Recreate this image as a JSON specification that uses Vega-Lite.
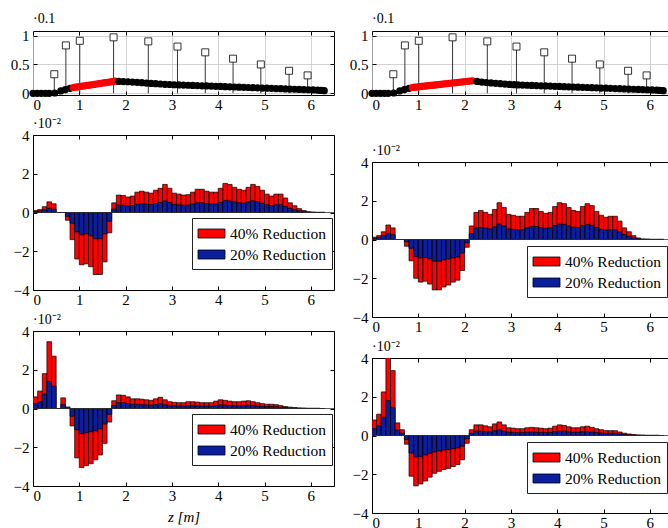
{
"$schema": "https://vega.github.io/schema/vega-lite/v6.json",
"background": "white",
"padding": {"left": 2, "top": 11, "right": 0, "bottom": 0},
"datasets": {
  "frame": [{"t": 0}],
  "stems": [
    {"z": 0.46, "v": 0.33}, {"z": 0.71, "v": 0.83}, {"z": 1.01, "v": 0.91}, {"z": 1.74, "v": 0.97}, {"z": 2.49, "v": 0.9}, {"z": 3.12, "v": 0.81}, {"z": 3.72, "v": 0.71}, {"z": 4.32, "v": 0.6}, {"z": 4.92, "v": 0.5}, {"z": 5.53, "v": 0.39}, {"z": 5.93, "v": 0.31}
  ],
  "dotsL": [
    {"z": 0, "v": 0, "p": "base"}, {"z": 0.09, "v": 0, "p": "base"}, {"z": 0.18, "v": 0, "p": "base"}, {"z": 0.27, "v": 0, "p": "base"}, {"z": 0.35, "v": 0, "p": "base"}, {"z": 0.47, "v": 0.005, "p": "base"}, {"z": 0.6, "v": 0.04, "p": "base"}, {"z": 0.7, "v": 0.065, "p": "base"}, {"z": 0.8, "v": 0.085, "p": "base"},
    {"z": 0.87, "v": 0.1, "p": "opt"}, {"z": 0.92, "v": 0.106, "p": "opt"}, {"z": 0.97, "v": 0.112, "p": "opt"}, {"z": 1.02, "v": 0.118, "p": "opt"}, {"z": 1.07, "v": 0.124, "p": "opt"}, {"z": 1.12, "v": 0.13, "p": "opt"}, {"z": 1.17, "v": 0.136, "p": "opt"}, {"z": 1.22, "v": 0.142, "p": "opt"}, {"z": 1.27, "v": 0.148, "p": "opt"}, {"z": 1.32, "v": 0.154, "p": "opt"}, {"z": 1.37, "v": 0.161, "p": "opt"}, {"z": 1.42, "v": 0.167, "p": "opt"}, {"z": 1.47, "v": 0.173, "p": "opt"}, {"z": 1.52, "v": 0.179, "p": "opt"}, {"z": 1.57, "v": 0.185, "p": "opt"}, {"z": 1.62, "v": 0.191, "p": "opt"}, {"z": 1.67, "v": 0.197, "p": "opt"}, {"z": 1.72, "v": 0.203, "p": "opt"}, {"z": 1.77, "v": 0.209, "p": "opt"},
    {"z": 1.85, "v": 0.205, "p": "base"}, {"z": 1.95, "v": 0.203, "p": "base"}, {"z": 2.05, "v": 0.2, "p": "base"}, {"z": 2.15, "v": 0.195, "p": "base"}, {"z": 2.25, "v": 0.19, "p": "base"}, {"z": 2.35, "v": 0.183, "p": "base"}, {"z": 2.45, "v": 0.177, "p": "base"}, {"z": 2.55, "v": 0.171, "p": "base"}, {"z": 2.65, "v": 0.166, "p": "base"}, {"z": 2.75, "v": 0.161, "p": "base"}, {"z": 2.85, "v": 0.156, "p": "base"}, {"z": 2.95, "v": 0.152, "p": "base"}, {"z": 3.05, "v": 0.148, "p": "base"}, {"z": 3.15, "v": 0.145, "p": "base"}, {"z": 3.25, "v": 0.142, "p": "base"}, {"z": 3.35, "v": 0.139, "p": "base"}, {"z": 3.45, "v": 0.136, "p": "base"}, {"z": 3.55, "v": 0.133, "p": "base"}, {"z": 3.65, "v": 0.13, "p": "base"}, {"z": 3.75, "v": 0.127, "p": "base"}, {"z": 3.85, "v": 0.124, "p": "base"}, {"z": 3.95, "v": 0.121, "p": "base"}, {"z": 4.05, "v": 0.118, "p": "base"}, {"z": 4.15, "v": 0.115, "p": "base"}, {"z": 4.25, "v": 0.112, "p": "base"}, {"z": 4.35, "v": 0.109, "p": "base"}, {"z": 4.45, "v": 0.106, "p": "base"}, {"z": 4.55, "v": 0.103, "p": "base"}, {"z": 4.65, "v": 0.1, "p": "base"}, {"z": 4.75, "v": 0.097, "p": "base"}, {"z": 4.85, "v": 0.094, "p": "base"}, {"z": 4.95, "v": 0.091, "p": "base"}, {"z": 5.05, "v": 0.088, "p": "base"}, {"z": 5.15, "v": 0.085, "p": "base"}, {"z": 5.25, "v": 0.082, "p": "base"}, {"z": 5.35, "v": 0.079, "p": "base"}, {"z": 5.45, "v": 0.076, "p": "base"}, {"z": 5.55, "v": 0.073, "p": "base"}, {"z": 5.65, "v": 0.07, "p": "base"}, {"z": 5.75, "v": 0.067, "p": "base"}, {"z": 5.85, "v": 0.064, "p": "base"}, {"z": 5.95, "v": 0.061, "p": "base"}, {"z": 6.05, "v": 0.058, "p": "base"}, {"z": 6.15, "v": 0.054, "p": "base"}, {"z": 6.22, "v": 0.05, "p": "base"}, {"z": 6.29, "v": 0.045, "p": "base"}
  ],
  "dotsR": [
    {"z": 0, "v": 0, "p": "base"}, {"z": 0.09, "v": 0, "p": "base"}, {"z": 0.18, "v": 0, "p": "base"}, {"z": 0.27, "v": 0, "p": "base"}, {"z": 0.35, "v": 0, "p": "base"}, {"z": 0.47, "v": 0.005, "p": "base"}, {"z": 0.6, "v": 0.04, "p": "base"}, {"z": 0.7, "v": 0.065, "p": "base"}, {"z": 0.8, "v": 0.085, "p": "base"},
    {"z": 0.87, "v": 0.1, "p": "opt"}, {"z": 0.92, "v": 0.105, "p": "opt"}, {"z": 0.97, "v": 0.109, "p": "opt"}, {"z": 1.02, "v": 0.114, "p": "opt"}, {"z": 1.07, "v": 0.118, "p": "opt"}, {"z": 1.12, "v": 0.123, "p": "opt"}, {"z": 1.17, "v": 0.127, "p": "opt"}, {"z": 1.22, "v": 0.132, "p": "opt"}, {"z": 1.27, "v": 0.136, "p": "opt"}, {"z": 1.32, "v": 0.141, "p": "opt"}, {"z": 1.37, "v": 0.145, "p": "opt"}, {"z": 1.42, "v": 0.15, "p": "opt"}, {"z": 1.47, "v": 0.154, "p": "opt"}, {"z": 1.52, "v": 0.159, "p": "opt"}, {"z": 1.57, "v": 0.163, "p": "opt"}, {"z": 1.62, "v": 0.168, "p": "opt"}, {"z": 1.67, "v": 0.172, "p": "opt"}, {"z": 1.72, "v": 0.177, "p": "opt"}, {"z": 1.77, "v": 0.181, "p": "opt"}, {"z": 1.82, "v": 0.186, "p": "opt"}, {"z": 1.87, "v": 0.19, "p": "opt"}, {"z": 1.92, "v": 0.195, "p": "opt"}, {"z": 1.97, "v": 0.199, "p": "opt"}, {"z": 2.02, "v": 0.204, "p": "opt"}, {"z": 2.07, "v": 0.208, "p": "opt"}, {"z": 2.12, "v": 0.213, "p": "opt"}, {"z": 2.17, "v": 0.217, "p": "opt"},
    {"z": 2.27, "v": 0.205, "p": "base"}, {"z": 2.37, "v": 0.195, "p": "base"}, {"z": 2.47, "v": 0.187, "p": "base"}, {"z": 2.57, "v": 0.18, "p": "base"}, {"z": 2.67, "v": 0.173, "p": "base"}, {"z": 2.77, "v": 0.166, "p": "base"}, {"z": 2.87, "v": 0.16, "p": "base"}, {"z": 2.97, "v": 0.154, "p": "base"}, {"z": 3.07, "v": 0.149, "p": "base"}, {"z": 3.15, "v": 0.145, "p": "base"}, {"z": 3.25, "v": 0.142, "p": "base"}, {"z": 3.35, "v": 0.139, "p": "base"}, {"z": 3.45, "v": 0.136, "p": "base"}, {"z": 3.55, "v": 0.133, "p": "base"}, {"z": 3.65, "v": 0.13, "p": "base"}, {"z": 3.75, "v": 0.127, "p": "base"}, {"z": 3.85, "v": 0.124, "p": "base"}, {"z": 3.95, "v": 0.121, "p": "base"}, {"z": 4.05, "v": 0.118, "p": "base"}, {"z": 4.15, "v": 0.115, "p": "base"}, {"z": 4.25, "v": 0.112, "p": "base"}, {"z": 4.35, "v": 0.109, "p": "base"}, {"z": 4.45, "v": 0.106, "p": "base"}, {"z": 4.55, "v": 0.103, "p": "base"}, {"z": 4.65, "v": 0.1, "p": "base"}, {"z": 4.75, "v": 0.097, "p": "base"}, {"z": 4.85, "v": 0.094, "p": "base"}, {"z": 4.95, "v": 0.091, "p": "base"}, {"z": 5.05, "v": 0.088, "p": "base"}, {"z": 5.15, "v": 0.085, "p": "base"}, {"z": 5.25, "v": 0.082, "p": "base"}, {"z": 5.35, "v": 0.079, "p": "base"}, {"z": 5.45, "v": 0.076, "p": "base"}, {"z": 5.55, "v": 0.073, "p": "base"}, {"z": 5.65, "v": 0.07, "p": "base"}, {"z": 5.75, "v": 0.067, "p": "base"}, {"z": 5.85, "v": 0.064, "p": "base"}, {"z": 5.95, "v": 0.061, "p": "base"}, {"z": 6.05, "v": 0.058, "p": "base"}, {"z": 6.15, "v": 0.054, "p": "base"}, {"z": 6.22, "v": 0.05, "p": "base"}, {"z": 6.29, "v": 0.045, "p": "base"}
  ],
  "lm": [
    {"z0":0,"z1":0.1,"p40":0.1,"p20":0.05},{"z0":0.1,"z1":0.2,"p40":0.15,"p20":0.08},{"z0":0.2,"z1":0.3,"p40":0.3,"p20":0.15},{"z0":0.3,"z1":0.4,"p40":0.55,"p20":0.22},{"z0":0.4,"z1":0.5,"p40":0.45,"p20":0.17},{"z0":0.5,"z1":0.6,"p40":0,"p20":0},{"z0":0.6,"z1":0.7,"p40":0,"p20":0},{"z0":0.7,"z1":0.8,"p40":-0.4,"p20":-0.2},{"z0":0.8,"z1":0.9,"p40":-1.4,"p20":-0.55},{"z0":0.9,"z1":1.0,"p40":-2.4,"p20":-1.0},
    {"z0":1.0,"z1":1.1,"p40":-2.7,"p20":-1.15},{"z0":1.1,"z1":1.2,"p40":-2.65,"p20":-1.1},{"z0":1.2,"z1":1.3,"p40":-2.8,"p20":-1.2},{"z0":1.3,"z1":1.4,"p40":-3.2,"p20":-1.35},{"z0":1.4,"z1":1.5,"p40":-3.2,"p20":-1.35},{"z0":1.5,"z1":1.6,"p40":-2.55,"p20":-1.1},{"z0":1.6,"z1":1.7,"p40":-1.05,"p20":-0.45},{"z0":1.7,"z1":1.8,"p40":0.5,"p20":0.18},{"z0":1.8,"z1":1.9,"p40":0.9,"p20":0.38},{"z0":1.9,"z1":2.0,"p40":0.88,"p20":0.37},
    {"z0":2.0,"z1":2.1,"p40":0.8,"p20":0.34},{"z0":2.1,"z1":2.2,"p40":0.85,"p20":0.36},{"z0":2.2,"z1":2.3,"p40":1.05,"p20":0.43},{"z0":2.3,"z1":2.4,"p40":1.1,"p20":0.45},{"z0":2.4,"z1":2.5,"p40":1.05,"p20":0.43},{"z0":2.5,"z1":2.6,"p40":1.0,"p20":0.41},{"z0":2.6,"z1":2.7,"p40":1.15,"p20":0.47},{"z0":2.7,"z1":2.8,"p40":1.25,"p20":0.52},{"z0":2.8,"z1":2.9,"p40":1.45,"p20":0.6},{"z0":2.9,"z1":3.0,"p40":1.25,"p20":0.52},
    {"z0":3.0,"z1":3.1,"p40":1.0,"p20":0.42},{"z0":3.1,"z1":3.2,"p40":0.95,"p20":0.4},{"z0":3.2,"z1":3.3,"p40":0.9,"p20":0.38},{"z0":3.3,"z1":3.4,"p40":0.92,"p20":0.39},{"z0":3.4,"z1":3.5,"p40":1.05,"p20":0.44},{"z0":3.5,"z1":3.6,"p40":1.2,"p20":0.5},{"z0":3.6,"z1":3.7,"p40":1.2,"p20":0.5},{"z0":3.7,"z1":3.8,"p40":1.1,"p20":0.46},{"z0":3.8,"z1":3.9,"p40":1.05,"p20":0.44},{"z0":3.9,"z1":4.0,"p40":1.05,"p20":0.44},
    {"z0":4.0,"z1":4.1,"p40":1.25,"p20":0.52},{"z0":4.1,"z1":4.2,"p40":1.5,"p20":0.62},{"z0":4.2,"z1":4.3,"p40":1.45,"p20":0.6},{"z0":4.3,"z1":4.4,"p40":1.3,"p20":0.55},{"z0":4.4,"z1":4.5,"p40":1.2,"p20":0.5},{"z0":4.5,"z1":4.6,"p40":1.15,"p20":0.48},{"z0":4.6,"z1":4.7,"p40":1.3,"p20":0.55},{"z0":4.7,"z1":4.8,"p40":1.45,"p20":0.6},{"z0":4.8,"z1":4.9,"p40":1.35,"p20":0.56},{"z0":4.9,"z1":5.0,"p40":1.15,"p20":0.48},
    {"z0":5.0,"z1":5.1,"p40":0.95,"p20":0.4},{"z0":5.1,"z1":5.2,"p40":0.85,"p20":0.36},{"z0":5.2,"z1":5.3,"p40":0.95,"p20":0.4},{"z0":5.3,"z1":5.4,"p40":0.95,"p20":0.4},{"z0":5.4,"z1":5.5,"p40":0.75,"p20":0.32},{"z0":5.5,"z1":5.6,"p40":0.5,"p20":0.22},{"z0":5.6,"z1":5.7,"p40":0.35,"p20":0.15},{"z0":5.7,"z1":5.8,"p40":0.2,"p20":0.09},{"z0":5.8,"z1":5.9,"p40":0.1,"p20":0.04},{"z0":5.9,"z1":6.0,"p40":0.04,"p20":0.02},
    {"z0":6.0,"z1":6.1,"p40":0.02,"p20":0.01},{"z0":6.1,"z1":6.2,"p40":0.01,"p20":0.005},{"z0":6.2,"z1":6.3,"p40":0.01,"p20":0.005}
  ],
  "rm": [
    {"z0":0,"z1":0.1,"p40":0.12,"p20":0.06},{"z0":0.1,"z1":0.2,"p40":0.2,"p20":0.1},{"z0":0.2,"z1":0.3,"p40":0.4,"p20":0.2},{"z0":0.3,"z1":0.4,"p40":0.75,"p20":0.3},{"z0":0.4,"z1":0.5,"p40":0.6,"p20":0.25},{"z0":0.5,"z1":0.6,"p40":0,"p20":0},{"z0":0.6,"z1":0.7,"p40":0,"p20":0},{"z0":0.7,"z1":0.8,"p40":-0.35,"p20":-0.12},{"z0":0.8,"z1":0.9,"p40":-1.1,"p20":-0.45},{"z0":0.9,"z1":1.0,"p40":-2.0,"p20":-0.88},
    {"z0":1.0,"z1":1.1,"p40":-2.2,"p20":-0.95},{"z0":1.1,"z1":1.2,"p40":-2.15,"p20":-0.93},{"z0":1.2,"z1":1.3,"p40":-2.3,"p20":-1.0},{"z0":1.3,"z1":1.4,"p40":-2.6,"p20":-1.12},{"z0":1.4,"z1":1.5,"p40":-2.6,"p20":-1.12},{"z0":1.5,"z1":1.6,"p40":-2.45,"p20":-1.05},{"z0":1.6,"z1":1.7,"p40":-2.35,"p20":-1.0},{"z0":1.7,"z1":1.8,"p40":-2.2,"p20":-0.95},{"z0":1.8,"z1":1.9,"p40":-2.1,"p20":-0.9},{"z0":1.9,"z1":2.0,"p40":-1.6,"p20":-0.7},
    {"z0":2.0,"z1":2.1,"p40":-0.4,"p20":-0.17},{"z0":2.1,"z1":2.2,"p40":0.7,"p20":0.3},{"z0":2.2,"z1":2.3,"p40":1.4,"p20":0.6},{"z0":2.3,"z1":2.4,"p40":1.5,"p20":0.62},{"z0":2.4,"z1":2.5,"p40":1.4,"p20":0.6},{"z0":2.5,"z1":2.6,"p40":1.3,"p20":0.55},{"z0":2.6,"z1":2.7,"p40":1.55,"p20":0.65},{"z0":2.7,"z1":2.8,"p40":1.9,"p20":0.8},{"z0":2.8,"z1":2.9,"p40":1.65,"p20":0.7},{"z0":2.9,"z1":3.0,"p40":1.3,"p20":0.55},
    {"z0":3.0,"z1":3.1,"p40":1.25,"p20":0.52},{"z0":3.1,"z1":3.2,"p40":1.2,"p20":0.5},{"z0":3.2,"z1":3.3,"p40":1.2,"p20":0.5},{"z0":3.3,"z1":3.4,"p40":1.4,"p20":0.6},{"z0":3.4,"z1":3.5,"p40":1.6,"p20":0.67},{"z0":3.5,"z1":3.6,"p40":1.6,"p20":0.67},{"z0":3.6,"z1":3.7,"p40":1.45,"p20":0.62},{"z0":3.7,"z1":3.8,"p40":1.35,"p20":0.58},{"z0":3.8,"z1":3.9,"p40":1.4,"p20":0.6},{"z0":3.9,"z1":4.0,"p40":1.7,"p20":0.72},
    {"z0":4.0,"z1":4.1,"p40":1.9,"p20":0.8},{"z0":4.1,"z1":4.2,"p40":1.85,"p20":0.78},{"z0":4.2,"z1":4.3,"p40":1.65,"p20":0.7},{"z0":4.3,"z1":4.4,"p40":1.5,"p20":0.64},{"z0":4.4,"z1":4.5,"p40":1.45,"p20":0.62},{"z0":4.5,"z1":4.6,"p40":1.7,"p20":0.72},{"z0":4.6,"z1":4.7,"p40":1.85,"p20":0.78},{"z0":4.7,"z1":4.8,"p40":1.75,"p20":0.74},{"z0":4.8,"z1":4.9,"p40":1.45,"p20":0.62},{"z0":4.9,"z1":5.0,"p40":1.25,"p20":0.53},
    {"z0":5.0,"z1":5.1,"p40":1.15,"p20":0.49},{"z0":5.1,"z1":5.2,"p40":1.2,"p20":0.5},{"z0":5.2,"z1":5.3,"p40":1.2,"p20":0.5},{"z0":5.3,"z1":5.4,"p40":0.95,"p20":0.4},{"z0":5.4,"z1":5.5,"p40":0.6,"p20":0.26},{"z0":5.5,"z1":5.6,"p40":0.4,"p20":0.17},{"z0":5.6,"z1":5.7,"p40":0.2,"p20":0.09},{"z0":5.7,"z1":5.8,"p40":0.08,"p20":0.04},{"z0":5.8,"z1":5.9,"p40":0.03,"p20":0.01},{"z0":5.9,"z1":6.0,"p40":0.02,"p20":0.01},
    {"z0":6.0,"z1":6.1,"p40":0.01,"p20":0.005},{"z0":6.1,"z1":6.2,"p40":0.01,"p20":0.005},{"z0":6.2,"z1":6.3,"p40":0.01,"p20":0.005}
  ],
  "lb": [
    {"z0":0,"z1":0.1,"p40":0.6,"p20":0.25},{"z0":0.1,"z1":0.2,"p40":0.9,"p20":0.35},{"z0":0.2,"z1":0.3,"p40":1.8,"p20":0.75},{"z0":0.3,"z1":0.4,"p40":3.45,"p20":1.4},{"z0":0.4,"z1":0.5,"p40":2.7,"p20":1.15},{"z0":0.5,"z1":0.6,"p40":0,"p20":0},{"z0":0.6,"z1":0.7,"p40":0.55,"p20":0.2},{"z0":0.7,"z1":0.8,"p40":0.08,"p20":0.03},{"z0":0.8,"z1":0.9,"p40":-0.9,"p20":-0.4},{"z0":0.9,"z1":1.0,"p40":-2.55,"p20":-1.1},
    {"z0":1.0,"z1":1.1,"p40":-3.05,"p20":-1.3},{"z0":1.1,"z1":1.2,"p40":-2.95,"p20":-1.25},{"z0":1.2,"z1":1.3,"p40":-2.85,"p20":-1.2},{"z0":1.3,"z1":1.4,"p40":-2.65,"p20":-1.15},{"z0":1.4,"z1":1.5,"p40":-2.4,"p20":-1.05},{"z0":1.5,"z1":1.6,"p40":-1.8,"p20":-0.8},{"z0":1.6,"z1":1.7,"p40":-0.7,"p20":-0.3},{"z0":1.7,"z1":1.8,"p40":0.4,"p20":0.15},{"z0":1.8,"z1":1.9,"p40":0.7,"p20":0.3},{"z0":1.9,"z1":2.0,"p40":0.68,"p20":0.3},
    {"z0":2.0,"z1":2.1,"p40":0.6,"p20":0.26},{"z0":2.1,"z1":2.2,"p40":0.5,"p20":0.22},{"z0":2.2,"z1":2.3,"p40":0.5,"p20":0.21},{"z0":2.3,"z1":2.4,"p40":0.48,"p20":0.2},{"z0":2.4,"z1":2.5,"p40":0.45,"p20":0.19},{"z0":2.5,"z1":2.6,"p40":0.42,"p20":0.18},{"z0":2.6,"z1":2.7,"p40":0.5,"p20":0.21},{"z0":2.7,"z1":2.8,"p40":0.58,"p20":0.25},{"z0":2.8,"z1":2.9,"p40":0.45,"p20":0.19},{"z0":2.9,"z1":3.0,"p40":0.35,"p20":0.15},
    {"z0":3.0,"z1":3.1,"p40":0.32,"p20":0.14},{"z0":3.1,"z1":3.2,"p40":0.3,"p20":0.13},{"z0":3.2,"z1":3.3,"p40":0.3,"p20":0.13},{"z0":3.3,"z1":3.4,"p40":0.35,"p20":0.15},{"z0":3.4,"z1":3.5,"p40":0.35,"p20":0.15},{"z0":3.5,"z1":3.6,"p40":0.33,"p20":0.14},{"z0":3.6,"z1":3.7,"p40":0.3,"p20":0.13},{"z0":3.7,"z1":3.8,"p40":0.3,"p20":0.13},{"z0":3.8,"z1":3.9,"p40":0.3,"p20":0.13},{"z0":3.9,"z1":4.0,"p40":0.38,"p20":0.16},
    {"z0":4.0,"z1":4.1,"p40":0.45,"p20":0.19},{"z0":4.1,"z1":4.2,"p40":0.42,"p20":0.18},{"z0":4.2,"z1":4.3,"p40":0.38,"p20":0.16},{"z0":4.3,"z1":4.4,"p40":0.35,"p20":0.15},{"z0":4.4,"z1":4.5,"p40":0.35,"p20":0.15},{"z0":4.5,"z1":4.6,"p40":0.38,"p20":0.16},{"z0":4.6,"z1":4.7,"p40":0.4,"p20":0.17},{"z0":4.7,"z1":4.8,"p40":0.35,"p20":0.15},{"z0":4.8,"z1":4.9,"p40":0.3,"p20":0.13},{"z0":4.9,"z1":5.0,"p40":0.25,"p20":0.11},
    {"z0":5.0,"z1":5.1,"p40":0.22,"p20":0.1},{"z0":5.1,"z1":5.2,"p40":0.22,"p20":0.1},{"z0":5.2,"z1":5.3,"p40":0.2,"p20":0.09},{"z0":5.3,"z1":5.4,"p40":0.15,"p20":0.07},{"z0":5.4,"z1":5.5,"p40":0.1,"p20":0.05},{"z0":5.5,"z1":5.6,"p40":0.07,"p20":0.03},{"z0":5.6,"z1":5.7,"p40":0.05,"p20":0.02},{"z0":5.7,"z1":5.8,"p40":0.03,"p20":0.01},{"z0":5.8,"z1":5.9,"p40":0.02,"p20":0.01},{"z0":5.9,"z1":6.0,"p40":0.01,"p20":0.005},
    {"z0":6.0,"z1":6.1,"p40":0.01,"p20":0.005},{"z0":6.1,"z1":6.2,"p40":0.01,"p20":0.005},{"z0":6.2,"z1":6.3,"p40":0,"p20":0}
  ],
  "rb": [
    {"z0":0,"z1":0.1,"p40":0.8,"p20":0.35},{"z0":0.1,"z1":0.2,"p40":1.1,"p20":0.5},{"z0":0.2,"z1":0.3,"p40":2.25,"p20":0.95},{"z0":0.3,"z1":0.4,"p40":4.2,"p20":1.8},{"z0":0.4,"z1":0.5,"p40":3.35,"p20":1.45},{"z0":0.5,"z1":0.6,"p40":0.65,"p20":0.28},{"z0":0.6,"z1":0.7,"p40":0.3,"p20":0.12},{"z0":0.7,"z1":0.8,"p40":-0.45,"p20":-0.2},{"z0":0.8,"z1":0.9,"p40":-2.1,"p20":-0.9},{"z0":0.9,"z1":1.0,"p40":-2.6,"p20":-1.1},
    {"z0":1.0,"z1":1.1,"p40":-2.5,"p20":-1.08},{"z0":1.1,"z1":1.2,"p40":-2.35,"p20":-1.0},{"z0":1.2,"z1":1.3,"p40":-2.15,"p20":-0.92},{"z0":1.3,"z1":1.4,"p40":-1.95,"p20":-0.85},{"z0":1.4,"z1":1.5,"p40":-1.85,"p20":-0.8},{"z0":1.5,"z1":1.6,"p40":-1.75,"p20":-0.75},{"z0":1.6,"z1":1.7,"p40":-1.7,"p20":-0.72},{"z0":1.7,"z1":1.8,"p40":-1.6,"p20":-0.68},{"z0":1.8,"z1":1.9,"p40":-1.5,"p20":-0.64},{"z0":1.9,"z1":2.0,"p40":-1.25,"p20":-0.55},
    {"z0":2.0,"z1":2.1,"p40":-0.4,"p20":-0.17},{"z0":2.1,"z1":2.2,"p40":0.3,"p20":0.12},{"z0":2.2,"z1":2.3,"p40":0.55,"p20":0.22},{"z0":2.3,"z1":2.4,"p40":0.55,"p20":0.22},{"z0":2.4,"z1":2.5,"p40":0.5,"p20":0.2},{"z0":2.5,"z1":2.6,"p40":0.45,"p20":0.19},{"z0":2.6,"z1":2.7,"p40":0.6,"p20":0.25},{"z0":2.7,"z1":2.8,"p40":0.7,"p20":0.3},{"z0":2.8,"z1":2.9,"p40":0.55,"p20":0.23},{"z0":2.9,"z1":3.0,"p40":0.4,"p20":0.17},
    {"z0":3.0,"z1":3.1,"p40":0.38,"p20":0.16},{"z0":3.1,"z1":3.2,"p40":0.35,"p20":0.15},{"z0":3.2,"z1":3.3,"p40":0.35,"p20":0.15},{"z0":3.3,"z1":3.4,"p40":0.4,"p20":0.17},{"z0":3.4,"z1":3.5,"p40":0.42,"p20":0.18},{"z0":3.5,"z1":3.6,"p40":0.4,"p20":0.17},{"z0":3.6,"z1":3.7,"p40":0.38,"p20":0.16},{"z0":3.7,"z1":3.8,"p40":0.35,"p20":0.15},{"z0":3.8,"z1":3.9,"p40":0.38,"p20":0.16},{"z0":3.9,"z1":4.0,"p40":0.48,"p20":0.2},
    {"z0":4.0,"z1":4.1,"p40":0.55,"p20":0.23},{"z0":4.1,"z1":4.2,"p40":0.52,"p20":0.22},{"z0":4.2,"z1":4.3,"p40":0.45,"p20":0.19},{"z0":4.3,"z1":4.4,"p40":0.4,"p20":0.17},{"z0":4.4,"z1":4.5,"p40":0.4,"p20":0.17},{"z0":4.5,"z1":4.6,"p40":0.45,"p20":0.19},{"z0":4.6,"z1":4.7,"p40":0.48,"p20":0.2},{"z0":4.7,"z1":4.8,"p40":0.42,"p20":0.18},{"z0":4.8,"z1":4.9,"p40":0.35,"p20":0.15},{"z0":4.9,"z1":5.0,"p40":0.3,"p20":0.13},
    {"z0":5.0,"z1":5.1,"p40":0.25,"p20":0.11},{"z0":5.1,"z1":5.2,"p40":0.25,"p20":0.11},{"z0":5.2,"z1":5.3,"p40":0.25,"p20":0.11},{"z0":5.3,"z1":5.4,"p40":0.18,"p20":0.08},{"z0":5.4,"z1":5.5,"p40":0.12,"p20":0.05},{"z0":5.5,"z1":5.6,"p40":0.08,"p20":0.03},{"z0":5.6,"z1":5.7,"p40":0.05,"p20":0.02},{"z0":5.7,"z1":5.8,"p40":0.03,"p20":0.01},{"z0":5.8,"z1":5.9,"p40":0.02,"p20":0.01},{"z0":5.9,"z1":6.0,"p40":0.01,"p20":0.005},
    {"z0":6.0,"z1":6.1,"p40":0.01,"p20":0.005},{"z0":6.1,"z1":6.2,"p40":0.01,"p20":0.005},{"z0":6.2,"z1":6.3,"p40":0,"p20":0}
  ]
},
"spacing": 6,
"resolve": {"scale": {"color": "independent"}, "legend": {"color": "independent"}},
"hconcat": [
 {
  "spacing": 3,
  "resolve": {"scale": {"color": "independent"}, "legend": {"color": "independent"}},
  "vconcat": [
   {
    "width": 301, "height": 64,
    "view": {"stroke": "black", "strokeWidth": 1},
    "title": {"text": "·0.1", "font": "Liberation Serif", "fontSize": 14, "fontWeight": "normal", "anchor": "start", "frame": "group", "offset": 3, "color": "black"},
    "resolve": {"axis": {"x": "independent", "y": "independent"}},
    "layer": [
     {"data": {"name": "stems"}, "mark": {"type": "rule", "color": "black", "strokeWidth": 0.8},
      "encoding": {
        "x": {"field": "z", "type": "quantitative", "scale": {"domain": [0, 6.5], "nice": false, "zero": false}, "axis": {"values": [0,1,2,3,4,5,6], "tickCount": 10, "format": "d", "title": null, "grid": true, "gridColor": "#c8c8c8", "gridWidth": 0.8, "labelFont": "Liberation Serif", "labelFontSize": 15, "labelColor": "black", "domain": false, "tickColor": "black", "tickSize": -4, "labelPadding": 6}},
        "y": {"field": "v", "type": "quantitative", "scale": {"domain": [-0.03, 1.08], "nice": false, "zero": false}, "axis": {"values": [0, 0.5, 1], "tickCount": 10, "labelExpr": "toString(datum.value)", "labelOverlap": false, "title": null, "grid": true, "gridColor": "#c8c8c8", "gridWidth": 0.8, "labelFont": "Liberation Serif", "labelFontSize": 15, "labelColor": "black", "domain": false, "tickColor": "black", "tickSize": -4, "labelPadding": 8, "minExtent": 30, "maxExtent": 30}},
        "y2": {"datum": 0}
      }},
     {"data": {"name": "dotsL"}, "mark": {"type": "circle", "size": 52, "opacity": 1},
      "encoding": {
        "x": {"field": "z", "type": "quantitative", "axis": null},
        "y": {"field": "v", "type": "quantitative", "axis": null},
        "color": {"field": "p", "type": "nominal", "scale": {"domain": ["base", "opt"], "range": ["black", "#ff0000"]}, "legend": null}
      }},
     {"data": {"name": "stems"}, "mark": {"type": "point", "shape": "square", "size": 49, "filled": true, "fill": "white", "stroke": "black", "strokeWidth": 0.8, "opacity": 1},
      "encoding": {"x": {"field": "z", "type": "quantitative", "axis": null}, "y": {"field": "v", "type": "quantitative", "axis": null}}},
     {"data": {"name": "frame"}, "mark": {"type": "point", "opacity": 0},
      "encoding": {
        "x": {"field": "t", "type": "quantitative", "axis": {"orient": "top", "values": [0,1,2,3,4,5,6], "tickCount": 10, "labels": false, "domain": false, "grid": false, "tickSize": -4, "tickColor": "black", "title": null}},
        "y": {"field": "t", "type": "quantitative", "axis": {"orient": "right", "values": [0, 0.5, 1], "tickCount": 10, "labels": false, "domain": false, "grid": false, "tickSize": -4, "tickColor": "black", "title": null, "minExtent": 0, "maxExtent": 0}}
      }}
    ]
   },
   {
    "spacing": 4,
    "resolve": {"scale": {"color": "independent"}, "legend": {"color": "independent"}},
    "vconcat": [
     {
      "width": 301, "height": 155,
      "view": {"stroke": "black", "strokeWidth": 1},
      "title": {"text": "·10⁻²", "font": "Liberation Serif", "fontSize": 14, "fontWeight": "normal", "anchor": "start", "frame": "group", "offset": -3, "color": "black"},
      "resolve": {"axis": {"x": "independent", "y": "independent"}},
      "layer": [
       {"data": {"name": "lm"}, "transform": [{"fold": ["p40", "p20"], "as": ["s", "v"]}],
        "mark": {"type": "bar", "stroke": "black", "strokeWidth": 0.7, "clip": true},
        "encoding": {
          "x": {"field": "z0", "type": "quantitative", "scale": {"domain": [0, 6.5], "nice": false, "zero": false}, "axis": {"values": [0,1,2,3,4,5,6], "tickCount": 10, "format": "d", "title": null, "grid": false, "labelFont": "Liberation Serif", "labelFontSize": 15, "labelColor": "black", "domain": false, "tickColor": "black", "tickSize": -4, "labelPadding": 6}},
          "x2": {"field": "z1"},
          "y": {"field": "v", "type": "quantitative", "stack": null, "scale": {"domain": [-4, 4], "nice": false}, "axis": {"values": [-4,-2,0,2,4], "tickCount": 10, "title": null, "grid": false, "labelOverlap": false, "labelFont": "Liberation Serif", "labelFontSize": 15, "labelColor": "black", "domain": false, "tickColor": "black", "tickSize": -4, "labelPadding": 8, "minExtent": 30, "maxExtent": 30}},
          "y2": {"datum": 0},
          "color": {"field": "s", "type": "nominal", "scale": {"domain": ["p40", "p20"], "range": ["#ff0000", "#0b1e9e"]}, "legend": {"orient": "none", "legendX": 159, "legendY": 83, "title": null, "labelExpr": "datum.value == 'p40' ? '40% Reduction' : '20% Reduction'", "labelFont": "Liberation Serif", "labelFontSize": 15.5, "labelColor": "black", "symbolType": "M-1.5,-0.5H1.5V0.5H-1.5Z", "symbolSize": 324, "symbolStrokeColor": "black", "symbolStrokeWidth": 0.8, "symbolOffset": 4, "labelOffset": 9, "padding": 6, "rowPadding": 3, "strokeColor": "#222", "fillColor": "white", "cornerRadius": 0, "symbolOpacity": 1}}
        }},
       {"data": {"values": [{"y": 0}]}, "mark": {"type": "rule", "color": "#333", "strokeWidth": 0.8}, "encoding": {"y": {"field": "y", "type": "quantitative", "axis": null}}},
       {"data": {"name": "frame"}, "mark": {"type": "point", "opacity": 0},
        "encoding": {
          "x": {"field": "t", "type": "quantitative", "axis": {"orient": "top", "values": [0,1,2,3,4,5,6], "tickCount": 10, "labels": false, "domain": false, "grid": false, "tickSize": -4, "tickColor": "black", "title": null}},
          "y": {"field": "t", "type": "quantitative", "axis": {"orient": "right", "values": [-4,-2,0,2,4], "tickCount": 10, "labels": false, "domain": false, "grid": false, "tickSize": -4, "tickColor": "black", "title": null, "minExtent": 0, "maxExtent": 0}}
        }}
      ]
     },
     {
      "width": 301, "height": 155,
      "view": {"stroke": "black", "strokeWidth": 1},
      "title": {"text": "·10⁻²", "font": "Liberation Serif", "fontSize": 14, "fontWeight": "normal", "anchor": "start", "frame": "group", "offset": -3, "color": "black"},
      "resolve": {"axis": {"x": "independent", "y": "independent"}},
      "layer": [
       {"data": {"name": "lb"}, "transform": [{"fold": ["p40", "p20"], "as": ["s", "v"]}],
        "mark": {"type": "bar", "stroke": "black", "strokeWidth": 0.7, "clip": true},
        "encoding": {
          "x": {"field": "z0", "type": "quantitative", "scale": {"domain": [0, 6.5], "nice": false, "zero": false}, "axis": {"values": [0,1,2,3,4,5,6], "tickCount": 10, "format": "d", "title": "z [m]", "titleFont": "Liberation Serif", "titleFontSize": 15, "titleFontWeight": "normal", "titleFontStyle": "italic", "titleColor": "black", "titlePadding": 6, "grid": false, "labelFont": "Liberation Serif", "labelFontSize": 15, "labelColor": "black", "domain": false, "tickColor": "black", "tickSize": -4, "labelPadding": 6}},
          "x2": {"field": "z1"},
          "y": {"field": "v", "type": "quantitative", "stack": null, "scale": {"domain": [-4, 4], "nice": false}, "axis": {"values": [-4,-2,0,2,4], "tickCount": 10, "title": null, "grid": false, "labelOverlap": false, "labelFont": "Liberation Serif", "labelFontSize": 15, "labelColor": "black", "domain": false, "tickColor": "black", "tickSize": -4, "labelPadding": 8, "minExtent": 30, "maxExtent": 30}},
          "y2": {"datum": 0},
          "color": {"field": "s", "type": "nominal", "scale": {"domain": ["p40", "p20"], "range": ["#ff0000", "#0b1e9e"]}, "legend": {"orient": "none", "legendX": 159, "legendY": 83, "title": null, "labelExpr": "datum.value == 'p40' ? '40% Reduction' : '20% Reduction'", "labelFont": "Liberation Serif", "labelFontSize": 15.5, "labelColor": "black", "symbolType": "M-1.5,-0.5H1.5V0.5H-1.5Z", "symbolSize": 324, "symbolStrokeColor": "black", "symbolStrokeWidth": 0.8, "symbolOffset": 4, "labelOffset": 9, "padding": 6, "rowPadding": 3, "strokeColor": "#222", "fillColor": "white", "cornerRadius": 0, "symbolOpacity": 1}}
        }},
       {"data": {"values": [{"y": 0}]}, "mark": {"type": "rule", "color": "#333", "strokeWidth": 0.8}, "encoding": {"y": {"field": "y", "type": "quantitative", "axis": null}}},
       {"data": {"name": "frame"}, "mark": {"type": "point", "opacity": 0},
        "encoding": {
          "x": {"field": "t", "type": "quantitative", "axis": {"orient": "top", "values": [0,1,2,3,4,5,6], "tickCount": 10, "labels": false, "domain": false, "grid": false, "tickSize": -4, "tickColor": "black", "title": null}},
          "y": {"field": "t", "type": "quantitative", "axis": {"orient": "right", "values": [-4,-2,0,2,4], "tickCount": 10, "labels": false, "domain": false, "grid": false, "tickSize": -4, "tickColor": "black", "title": null, "minExtent": 0, "maxExtent": 0}}
        }}
      ]
     }
    ]
   }
  ]
 },
 {
  "spacing": 30,
  "resolve": {"scale": {"color": "independent"}, "legend": {"color": "independent"}},
  "vconcat": [
   {
    "width": 301, "height": 64,
    "view": {"stroke": "black", "strokeWidth": 1},
    "title": {"text": "·0.1", "font": "Liberation Serif", "fontSize": 14, "fontWeight": "normal", "anchor": "start", "frame": "group", "offset": 3, "color": "black"},
    "resolve": {"axis": {"x": "independent", "y": "independent"}},
    "layer": [
     {"data": {"name": "stems"}, "mark": {"type": "rule", "color": "black", "strokeWidth": 0.8},
      "encoding": {
        "x": {"field": "z", "type": "quantitative", "scale": {"domain": [0, 6.5], "nice": false, "zero": false}, "axis": {"values": [0,1,2,3,4,5,6], "tickCount": 10, "format": "d", "title": null, "grid": true, "gridColor": "#c8c8c8", "gridWidth": 0.8, "labelFont": "Liberation Serif", "labelFontSize": 15, "labelColor": "black", "domain": false, "tickColor": "black", "tickSize": -4, "labelPadding": 6}},
        "y": {"field": "v", "type": "quantitative", "scale": {"domain": [-0.03, 1.08], "nice": false, "zero": false}, "axis": {"values": [0, 0.5, 1], "tickCount": 10, "labelExpr": "toString(datum.value)", "labelOverlap": false, "title": null, "grid": true, "gridColor": "#c8c8c8", "gridWidth": 0.8, "labelFont": "Liberation Serif", "labelFontSize": 15, "labelColor": "black", "domain": false, "tickColor": "black", "tickSize": -4, "labelPadding": 8, "minExtent": 30, "maxExtent": 30}},
        "y2": {"datum": 0}
      }},
     {"data": {"name": "dotsR"}, "mark": {"type": "circle", "size": 52, "opacity": 1},
      "encoding": {
        "x": {"field": "z", "type": "quantitative", "axis": null},
        "y": {"field": "v", "type": "quantitative", "axis": null},
        "color": {"field": "p", "type": "nominal", "scale": {"domain": ["base", "opt"], "range": ["black", "#ff0000"]}, "legend": null}
      }},
     {"data": {"name": "stems"}, "mark": {"type": "point", "shape": "square", "size": 49, "filled": true, "fill": "white", "stroke": "black", "strokeWidth": 0.8, "opacity": 1},
      "encoding": {"x": {"field": "z", "type": "quantitative", "axis": null}, "y": {"field": "v", "type": "quantitative", "axis": null}}},
     {"data": {"name": "frame"}, "mark": {"type": "point", "opacity": 0},
      "encoding": {
        "x": {"field": "t", "type": "quantitative", "axis": {"orient": "top", "values": [0,1,2,3,4,5,6], "tickCount": 10, "labels": false, "domain": false, "grid": false, "tickSize": -4, "tickColor": "black", "title": null}},
        "y": {"field": "t", "type": "quantitative", "axis": {"orient": "right", "values": [0, 0.5, 1], "tickCount": 10, "labels": false, "domain": false, "grid": false, "tickSize": -4, "tickColor": "black", "title": null, "minExtent": 0, "maxExtent": 0}}
      }}
    ]
   },
   {
    "spacing": 4,
    "resolve": {"scale": {"color": "independent"}, "legend": {"color": "independent"}},
    "vconcat": [
     {
      "width": 301, "height": 155,
      "view": {"stroke": "black", "strokeWidth": 1},
      "title": {"text": "·10⁻²", "font": "Liberation Serif", "fontSize": 14, "fontWeight": "normal", "anchor": "start", "frame": "group", "offset": -3, "color": "black"},
      "resolve": {"axis": {"x": "independent", "y": "independent"}},
      "layer": [
       {"data": {"name": "rm"}, "transform": [{"fold": ["p40", "p20"], "as": ["s", "v"]}],
        "mark": {"type": "bar", "stroke": "black", "strokeWidth": 0.7, "clip": true},
        "encoding": {
          "x": {"field": "z0", "type": "quantitative", "scale": {"domain": [0, 6.5], "nice": false, "zero": false}, "axis": {"values": [0,1,2,3,4,5,6], "tickCount": 10, "format": "d", "title": null, "grid": false, "labelFont": "Liberation Serif", "labelFontSize": 15, "labelColor": "black", "domain": false, "tickColor": "black", "tickSize": -4, "labelPadding": 6}},
          "x2": {"field": "z1"},
          "y": {"field": "v", "type": "quantitative", "stack": null, "scale": {"domain": [-4, 4], "nice": false}, "axis": {"values": [-4,-2,0,2,4], "tickCount": 10, "title": null, "grid": false, "labelOverlap": false, "labelFont": "Liberation Serif", "labelFontSize": 15, "labelColor": "black", "domain": false, "tickColor": "black", "tickSize": -4, "labelPadding": 8, "minExtent": 30, "maxExtent": 30}},
          "y2": {"datum": 0},
          "color": {"field": "s", "type": "nominal", "scale": {"domain": ["p40", "p20"], "range": ["#ff0000", "#0b1e9e"]}, "legend": {"orient": "none", "legendX": 155, "legendY": 84, "title": null, "labelExpr": "datum.value == 'p40' ? '40% Reduction' : '20% Reduction'", "labelFont": "Liberation Serif", "labelFontSize": 15.5, "labelColor": "black", "symbolType": "M-1.5,-0.5H1.5V0.5H-1.5Z", "symbolSize": 324, "symbolStrokeColor": "black", "symbolStrokeWidth": 0.8, "symbolOffset": 4, "labelOffset": 9, "padding": 6, "rowPadding": 3, "strokeColor": "#222", "fillColor": "white", "cornerRadius": 0, "symbolOpacity": 1}}
        }},
       {"data": {"values": [{"y": 0}]}, "mark": {"type": "rule", "color": "#333", "strokeWidth": 0.8}, "encoding": {"y": {"field": "y", "type": "quantitative", "axis": null}}},
       {"data": {"name": "frame"}, "mark": {"type": "point", "opacity": 0},
        "encoding": {
          "x": {"field": "t", "type": "quantitative", "axis": {"orient": "top", "values": [0,1,2,3,4,5,6], "tickCount": 10, "labels": false, "domain": false, "grid": false, "tickSize": -4, "tickColor": "black", "title": null}},
          "y": {"field": "t", "type": "quantitative", "axis": {"orient": "right", "values": [-4,-2,0,2,4], "tickCount": 10, "labels": false, "domain": false, "grid": false, "tickSize": -4, "tickColor": "black", "title": null, "minExtent": 0, "maxExtent": 0}}
        }}
      ]
     },
     {
      "width": 301, "height": 155,
      "view": {"stroke": "black", "strokeWidth": 1},
      "title": {"text": "·10⁻²", "font": "Liberation Serif", "fontSize": 14, "fontWeight": "normal", "anchor": "start", "frame": "group", "offset": -3, "color": "black"},
      "resolve": {"axis": {"x": "independent", "y": "independent"}},
      "layer": [
       {"data": {"name": "rb"}, "transform": [{"fold": ["p40", "p20"], "as": ["s", "v"]}],
        "mark": {"type": "bar", "stroke": "black", "strokeWidth": 0.7, "clip": true},
        "encoding": {
          "x": {"field": "z0", "type": "quantitative", "scale": {"domain": [0, 6.5], "nice": false, "zero": false}, "axis": {"values": [0,1,2,3,4,5,6], "tickCount": 10, "format": "d", "title": null, "grid": false, "labelFont": "Liberation Serif", "labelFontSize": 15, "labelColor": "black", "domain": false, "tickColor": "black", "tickSize": -4, "labelPadding": 6}},
          "x2": {"field": "z1"},
          "y": {"field": "v", "type": "quantitative", "stack": null, "scale": {"domain": [-4, 4], "nice": false}, "axis": {"values": [-4,-2,0,2,4], "tickCount": 10, "title": null, "grid": false, "labelOverlap": false, "labelFont": "Liberation Serif", "labelFontSize": 15, "labelColor": "black", "domain": false, "tickColor": "black", "tickSize": -4, "labelPadding": 8, "minExtent": 30, "maxExtent": 30}},
          "y2": {"datum": 0},
          "color": {"field": "s", "type": "nominal", "scale": {"domain": ["p40", "p20"], "range": ["#ff0000", "#0b1e9e"]}, "legend": {"orient": "none", "legendX": 155, "legendY": 84, "title": null, "labelExpr": "datum.value == 'p40' ? '40% Reduction' : '20% Reduction'", "labelFont": "Liberation Serif", "labelFontSize": 15.5, "labelColor": "black", "symbolType": "M-1.5,-0.5H1.5V0.5H-1.5Z", "symbolSize": 324, "symbolStrokeColor": "black", "symbolStrokeWidth": 0.8, "symbolOffset": 4, "labelOffset": 9, "padding": 6, "rowPadding": 3, "strokeColor": "#222", "fillColor": "white", "cornerRadius": 0, "symbolOpacity": 1}}
        }},
       {"data": {"values": [{"y": 0}]}, "mark": {"type": "rule", "color": "#333", "strokeWidth": 0.8}, "encoding": {"y": {"field": "y", "type": "quantitative", "axis": null}}},
       {"data": {"name": "frame"}, "mark": {"type": "point", "opacity": 0},
        "encoding": {
          "x": {"field": "t", "type": "quantitative", "axis": {"orient": "top", "values": [0,1,2,3,4,5,6], "tickCount": 10, "labels": false, "domain": false, "grid": false, "tickSize": -4, "tickColor": "black", "title": null}},
          "y": {"field": "t", "type": "quantitative", "axis": {"orient": "right", "values": [-4,-2,0,2,4], "tickCount": 10, "labels": false, "domain": false, "grid": false, "tickSize": -4, "tickColor": "black", "title": null, "minExtent": 0, "maxExtent": 0}}
        }}
      ]
     }
    ]
   }
  ]
 }
]
}
